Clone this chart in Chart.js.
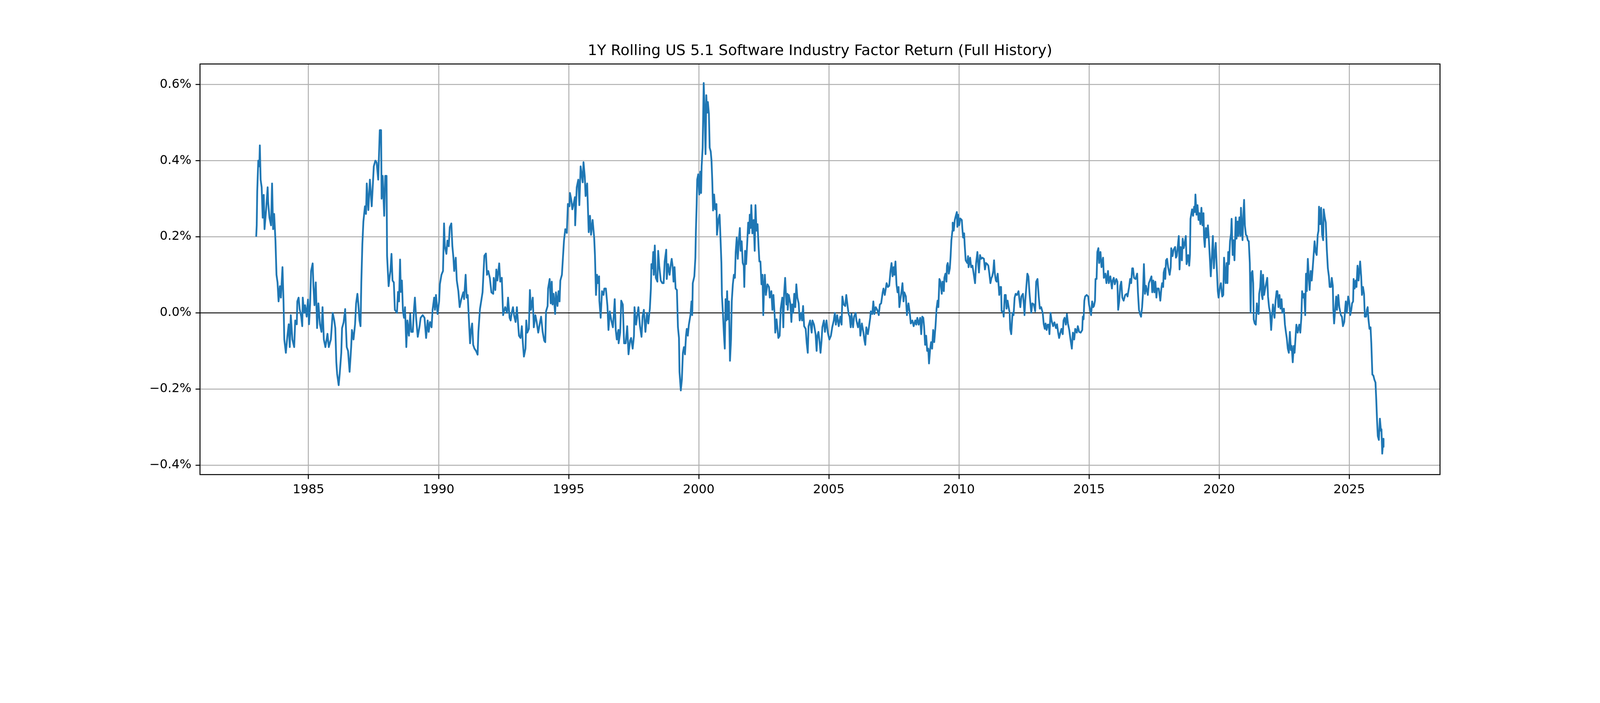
<!DOCTYPE html>
<html>
<head>
<meta charset="utf-8">
<title>1Y Rolling US 5.1 Software Industry Factor Return (Full History)</title>
<script src="https://cdn.jsdelivr.net/npm/chart.js@4.4.1/dist/chart.umd.min.js"></script>
<style>
  html, body { margin: 0; padding: 0; background: #fff; overflow: hidden; }
  canvas { display: block; }
</style>
</head>
<body>
<canvas id="chart"></canvas>
<script>
//-----------------------------------------------------------------------------
// Data (returns in %)
const xTicks = [1985, 1990, 1995, 2000, 2005, 2010, 2015, 2020, 2025];
const yTicks = [-0.4, -0.2, 0.0, 0.2, 0.4, 0.6];

const dates = [
  1982.99, 1983.01, 1983.03, 1983.07, 1983.11, 1983.13, 1983.16, 1983.20, 1983.24, 1983.28, 1983.31, 1983.37, 1983.43, 1983.45, 1983.50, 1983.56, 1983.60, 1983.64, 1983.68, 1983.73, 1983.77, 1983.81, 1983.85, 1983.90, 1983.94,
  1984.00, 1984.04, 1984.07, 1984.13, 1984.19, 1984.24, 1984.28, 1984.32, 1984.38, 1984.45, 1984.49, 1984.55, 1984.57, 1984.62, 1984.66, 1984.72, 1984.76, 1984.78, 1984.83, 1984.87, 1984.93, 1984.98,
  1985.02, 1985.06, 1985.10, 1985.16, 1985.19, 1985.23, 1985.28, 1985.33, 1985.38, 1985.44, 1985.50, 1985.54, 1985.59, 1985.65, 1985.73, 1985.78, 1985.86, 1985.93, 1985.99,
  1986.03, 1986.07, 1986.10, 1986.16, 1986.20, 1986.26, 1986.29, 1986.35, 1986.41, 1986.47, 1986.52, 1986.58, 1986.64, 1986.67, 1986.73, 1986.79, 1986.83, 1986.88, 1986.92, 1986.96,
  1987.00, 1987.03, 1987.07, 1987.11, 1987.17, 1987.21, 1987.24, 1987.30, 1987.36, 1987.43, 1987.51, 1987.57, 1987.62, 1987.68, 1987.74, 1987.79, 1987.81, 1987.85, 1987.91, 1987.95,
  1988.00, 1988.02, 1988.08, 1988.12, 1988.15, 1988.19, 1988.23, 1988.28, 1988.32, 1988.40, 1988.44, 1988.48, 1988.52, 1988.55, 1988.59, 1988.63, 1988.67, 1988.71, 1988.76, 1988.80, 1988.86, 1988.91, 1988.95,
  1989.01, 1989.05, 1989.09, 1989.14, 1989.20, 1989.27, 1989.31, 1989.39, 1989.46, 1989.52, 1989.58, 1989.62, 1989.67, 1989.73, 1989.77, 1989.83, 1989.86, 1989.90, 1989.96,
  1990.02, 1990.05, 1990.11, 1990.17, 1990.21, 1990.24, 1990.30, 1990.34, 1990.39, 1990.43, 1990.49, 1990.53, 1990.57, 1990.60, 1990.66, 1990.70, 1990.76, 1990.81, 1990.87, 1990.95, 1990.98,
  1991.04, 1991.08, 1991.12, 1991.15, 1991.21, 1991.25, 1991.29, 1991.33, 1991.38, 1991.44, 1991.50, 1991.53, 1991.59, 1991.65, 1991.69, 1991.72, 1991.76, 1991.82, 1991.86, 1991.91, 1991.97,
  1992.03, 1992.10, 1992.12, 1992.18, 1992.22, 1992.26, 1992.33, 1992.37, 1992.43, 1992.48, 1992.56, 1992.63, 1992.67, 1992.73, 1992.77, 1992.81, 1992.86, 1992.90, 1992.96,
  1993.01, 1993.09, 1993.15, 1993.20, 1993.24, 1993.28, 1993.34, 1993.37, 1993.41, 1993.47, 1993.51, 1993.55, 1993.62, 1993.66, 1993.72, 1993.77, 1993.83, 1993.89, 1993.94,
  1994.00, 1994.06, 1994.10, 1994.13, 1994.19, 1994.21, 1994.27, 1994.31, 1994.35, 1994.38, 1994.42, 1994.48, 1994.51, 1994.57, 1994.61, 1994.65, 1994.68, 1994.74, 1994.78, 1994.82, 1994.87, 1994.93, 1994.97,
  1995.03, 1995.05, 1995.10, 1995.14, 1995.20, 1995.24, 1995.25, 1995.31, 1995.37, 1995.41, 1995.46, 1995.50, 1995.54, 1995.57, 1995.62, 1995.65, 1995.71, 1995.77, 1995.82, 1995.86, 1995.92, 1995.98,
  1996.01, 1996.05, 1996.09, 1996.13, 1996.17, 1996.18, 1996.23, 1996.28, 1996.34, 1996.37, 1996.43, 1996.49, 1996.53, 1996.58, 1996.64, 1996.70, 1996.74, 1996.77, 1996.81, 1996.85, 1996.91, 1996.92, 1996.98,
  1997.02, 1997.08, 1997.13, 1997.19, 1997.25, 1997.30, 1997.36, 1997.40, 1997.46, 1997.51, 1997.53, 1997.59, 1997.63, 1997.68, 1997.74, 1997.80, 1997.84, 1997.89, 1997.95,
  1998.01, 1998.06, 1998.12, 1998.16, 1998.18, 1998.22, 1998.25, 1998.27, 1998.31, 1998.35, 1998.41, 1998.44, 1998.48, 1998.54, 1998.60, 1998.65, 1998.69, 1998.75, 1998.77, 1998.82, 1998.88, 1998.92, 1998.96,
  1999.00, 1999.03, 1999.07, 1999.11, 1999.16, 1999.20, 1999.24, 1999.26, 1999.31, 1999.35, 1999.39, 1999.43, 1999.47, 1999.51, 1999.54, 1999.58, 1999.62, 1999.68, 1999.72, 1999.75, 1999.77, 1999.83, 1999.87, 1999.89, 1999.92, 1999.94, 1999.98,
  2000.02, 2000.06, 2000.09, 2000.11, 2000.15, 2000.19, 2000.23, 2000.26, 2000.29, 2000.32, 2000.35, 2000.39, 2000.42, 2000.46, 2000.49, 2000.52, 2000.55, 2000.59, 2000.63, 2000.68, 2000.70, 2000.76, 2000.80, 2000.84, 2000.87, 2000.89, 2000.93, 2000.97,
  2001.00, 2001.03, 2001.06, 2001.09, 2001.12, 2001.16, 2001.20, 2001.24, 2001.27, 2001.31, 2001.35, 2001.39, 2001.42, 2001.46, 2001.50, 2001.54, 2001.58, 2001.61, 2001.65, 2001.69, 2001.73, 2001.75, 2001.78, 2001.82, 2001.86, 2001.90, 2001.94, 2001.96, 2001.99,
  2002.02, 2002.06, 2002.11, 2002.15, 2002.18, 2002.22, 2002.26, 2002.30, 2002.33, 2002.37, 2002.41, 2002.45, 2002.48, 2002.51, 2002.54, 2002.58, 2002.64, 2002.70, 2002.73, 2002.79, 2002.83, 2002.87, 2002.92, 2002.94, 2002.99,
  2003.06, 2003.11, 2003.15, 2003.21, 2003.25, 2003.28, 2003.32, 2003.37, 2003.41, 2003.42, 2003.46, 2003.52, 2003.56, 2003.59, 2003.63, 2003.67, 2003.71, 2003.75, 2003.79, 2003.84, 2003.88, 2003.94, 2003.97,
  2004.01, 2004.05, 2004.11, 2004.15, 2004.19, 2004.22, 2004.28, 2004.34, 2004.37, 2004.43, 2004.49, 2004.53, 2004.56, 2004.60, 2004.64, 2004.68, 2004.72, 2004.75, 2004.81, 2004.85, 2004.91, 2004.96,
  2005.02, 2005.08, 2005.13, 2005.19, 2005.23, 2005.27, 2005.32, 2005.38, 2005.44, 2005.49, 2005.52, 2005.57, 2005.63, 2005.67, 2005.72, 2005.76, 2005.80, 2005.84, 2005.87, 2005.93, 2005.97,
  2006.03, 2006.06, 2006.12, 2006.18, 2006.21, 2006.27, 2006.33, 2006.37, 2006.40, 2006.44, 2006.50, 2006.54, 2006.59, 2006.61, 2006.67, 2006.71, 2006.75, 2006.80, 2006.86, 2006.92, 2006.96,
  2007.01, 2007.07, 2007.10, 2007.15, 2007.18, 2007.22, 2007.27, 2007.32, 2007.37, 2007.41, 2007.45, 2007.49, 2007.52, 2007.56, 2007.60, 2007.64, 2007.68, 2007.71, 2007.75, 2007.79, 2007.83, 2007.87, 2007.90, 2007.96,
  2008.00, 2008.06, 2008.11, 2008.15, 2008.21, 2008.26, 2008.32, 2008.36, 2008.40, 2008.45, 2008.51, 2008.55, 2008.59, 2008.63, 2008.66, 2008.70, 2008.74, 2008.78, 2008.82, 2008.85, 2008.89, 2008.93, 2008.97,
  2009.01, 2009.05, 2009.10, 2009.14, 2009.18, 2009.21, 2009.25, 2009.29, 2009.34, 2009.37, 2009.42, 2009.44, 2009.48, 2009.52, 2009.54, 2009.57, 2009.61, 2009.65, 2009.68, 2009.71, 2009.75, 2009.76, 2009.80, 2009.84, 2009.88, 2009.92, 2009.94, 2009.97,
  2010.01, 2010.05, 2010.11, 2010.13, 2010.16, 2010.20, 2010.22, 2010.26, 2010.32, 2010.35, 2010.37, 2010.43, 2010.47, 2010.52, 2010.56, 2010.62, 2010.66, 2010.71, 2010.73, 2010.77, 2010.81, 2010.85, 2010.90, 2010.96,
  2011.00, 2011.04, 2011.09, 2011.13, 2011.17, 2011.21, 2011.25, 2011.28, 2011.32, 2011.35, 2011.38, 2011.42, 2011.45, 2011.49, 2011.53, 2011.55, 2011.59, 2011.62, 2011.64, 2011.70, 2011.72, 2011.76, 2011.80, 2011.83, 2011.87, 2011.91, 2011.95, 2011.97,
  2012.01, 2012.06, 2012.10, 2012.14, 2012.18, 2012.23, 2012.29, 2012.33, 2012.36, 2012.40, 2012.46, 2012.50, 2012.52, 2012.55, 2012.59, 2012.63, 2012.67, 2012.71, 2012.74, 2012.78, 2012.82, 2012.88, 2012.93, 2012.97,
  2013.02, 2013.07, 2013.11, 2013.16, 2013.22, 2013.26, 2013.30, 2013.33, 2013.37, 2013.41, 2013.45, 2013.48, 2013.52, 2013.56, 2013.62, 2013.67, 2013.73, 2013.77, 2013.81, 2013.85, 2013.90, 2013.94, 2013.99,
  2014.02, 2014.06, 2014.11, 2014.15, 2014.19, 2014.24, 2014.28, 2014.34, 2014.38, 2014.43, 2014.47, 2014.53, 2014.57, 2014.62, 2014.68, 2014.74, 2014.76, 2014.79, 2014.82, 2014.85, 2014.91, 2014.97,
  2015.00, 2015.04, 2015.08, 2015.12, 2015.16, 2015.19, 2015.23, 2015.25, 2015.29, 2015.32, 2015.36, 2015.39, 2015.44, 2015.48, 2015.54, 2015.57, 2015.63, 2015.67, 2015.73, 2015.76, 2015.82, 2015.88, 2015.91, 2015.95, 2015.99,
  2016.05, 2016.09, 2016.12, 2016.16, 2016.20, 2016.24, 2016.28, 2016.33, 2016.39, 2016.45, 2016.48, 2016.54, 2016.58, 2016.62, 2016.66, 2016.69, 2016.73, 2016.79, 2016.85, 2016.88, 2016.92, 2016.96,
  2017.00, 2017.04, 2017.07, 2017.11, 2017.15, 2017.19, 2017.23, 2017.26, 2017.30, 2017.34, 2017.40, 2017.43, 2017.47, 2017.51, 2017.55, 2017.59, 2017.62, 2017.68, 2017.74, 2017.78, 2017.81, 2017.85, 2017.87, 2017.91, 2017.93, 2017.96,
  2018.00, 2018.04, 2018.10, 2018.14, 2018.16, 2018.21, 2018.25, 2018.31, 2018.34, 2018.37, 2018.41, 2018.45, 2018.48, 2018.52, 2018.57, 2018.60, 2018.64, 2018.68, 2018.72, 2018.75, 2018.81, 2018.85, 2018.88, 2018.90, 2018.96,
  2019.00, 2019.04, 2019.07, 2019.09, 2019.13, 2019.17, 2019.21, 2019.24, 2019.28, 2019.32, 2019.36, 2019.40, 2019.42, 2019.45, 2019.49, 2019.53, 2019.57, 2019.61, 2019.64, 2019.68, 2019.72, 2019.76, 2019.80, 2019.83, 2019.87, 2019.91, 2019.95, 2019.98,
  2020.02, 2020.07, 2020.12, 2020.16, 2020.19, 2020.25, 2020.29, 2020.32, 2020.35, 2020.38, 2020.42, 2020.46, 2020.48, 2020.52, 2020.55, 2020.59, 2020.64, 2020.67, 2020.71, 2020.74, 2020.78, 2020.82, 2020.84, 2020.86, 2020.90, 2020.93, 2020.96, 2020.99,
  2021.03, 2021.07, 2021.10, 2021.14, 2021.18, 2021.21, 2021.24, 2021.28, 2021.31, 2021.33, 2021.37, 2021.41, 2021.45, 2021.48, 2021.52, 2021.54, 2021.58, 2021.61, 2021.64, 2021.67, 2021.69, 2021.73, 2021.77, 2021.81, 2021.85, 2021.88, 2021.92, 2021.96,
  2022.00, 2022.03, 2022.07, 2022.13, 2022.17, 2022.21, 2022.24, 2022.28, 2022.32, 2022.36, 2022.40, 2022.43, 2022.49, 2022.53, 2022.57, 2022.60, 2022.64, 2022.68, 2022.72, 2022.76, 2022.79, 2022.83, 2022.87, 2022.90, 2022.93, 2022.97,
  2023.02, 2023.08, 2023.12, 2023.16, 2023.19, 2023.23, 2023.27, 2023.31, 2023.34, 2023.37, 2023.41, 2023.44, 2023.48, 2023.52, 2023.56, 2023.60, 2023.63, 2023.67, 2023.71, 2023.75, 2023.79, 2023.82, 2023.84, 2023.88, 2023.92, 2023.96,
  2024.00, 2024.02, 2024.06, 2024.10, 2024.14, 2024.18, 2024.22, 2024.25, 2024.30, 2024.33, 2024.37, 2024.39, 2024.42, 2024.45, 2024.50, 2024.53, 2024.58, 2024.62, 2024.68, 2024.72, 2024.76, 2024.81, 2024.85, 2024.87, 2024.91, 2024.96,
  2025.00, 2025.04, 2025.08, 2025.11, 2025.15, 2025.17, 2025.21, 2025.25, 2025.28, 2025.32, 2025.36, 2025.39, 2025.42, 2025.46, 2025.49, 2025.53, 2025.57, 2025.60, 2025.65, 2025.68, 2025.71, 2025.74, 2025.78, 2025.82, 2025.85, 2025.89, 2025.93, 2025.97,
  2026.01, 2026.04, 2026.07, 2026.10, 2026.14, 2026.18, 2026.22, 2026.24, 2026.27, 2026.31, 2026.32
];

const returns = [
  0.20, 0.23, 0.32, 0.40, 0.385, 0.44, 0.35, 0.33, 0.25, 0.31, 0.22, 0.27, 0.33, 0.29, 0.25, 0.23, 0.34, 0.22, 0.26, 0.19, 0.10, 0.08, 0.03, 0.07, 0.04,
  0.12, 0.03, -0.07, -0.105, -0.06, -0.03, -0.09, -0.006, -0.07, -0.09, -0.02, -0.03, 0.03, 0.04, 0.01, -0.01, -0.035, 0.04, 0.0, 0.02, -0.01, 0.035,
  -0.03, 0.02, 0.11, 0.13, 0.07, 0.02, 0.08, -0.04, 0.025, -0.03, -0.05, 0.015, -0.07, -0.09, -0.055, -0.09, -0.07, 0.0, -0.02,
  -0.04, -0.13, -0.16, -0.19, -0.16, -0.105, -0.04, -0.025, 0.01, -0.09, -0.10, -0.155, -0.09, -0.045, -0.07, -0.03, 0.025, 0.05, 0.02, -0.02,
  -0.035, 0.08, 0.18, 0.24, 0.28, 0.26, 0.34, 0.27, 0.35, 0.28, 0.385, 0.40, 0.395, 0.35, 0.48, 0.48, 0.30, 0.36, 0.255, 0.36,
  0.36, 0.15, 0.07, 0.095, 0.11, 0.155, 0.085, 0.08, 0.008, 0.0, 0.055, 0.03, 0.14, 0.055, 0.085, 0.005, -0.013, 0.015, -0.09, -0.02, -0.06, -0.003, -0.05,
  -0.05, 0.005, 0.04, -0.017, -0.063, -0.035, -0.013, -0.006, -0.013, -0.066, -0.02, -0.05, -0.024, -0.038, 0.008, 0.04, 0.008, 0.047, -0.003,
  0.03, 0.075, 0.10, 0.11, 0.235, 0.175, 0.155, 0.19, 0.175, 0.225, 0.235, 0.175, 0.145, 0.11, 0.145, 0.085, 0.057, 0.015, 0.035, 0.054, 0.036,
  0.10, 0.04, 0.047, 0.004, -0.08, -0.045, -0.028, -0.084, -0.094, -0.10, -0.11, -0.05, 0.01, 0.036, 0.054, 0.096, 0.15, 0.156, 0.10, 0.11, 0.092,
  0.054, 0.05, 0.092, 0.06, 0.114, 0.085, 0.13, 0.082, 0.092, -0.006, 0.015, 0.0, 0.04, -0.013, -0.02, 0.0, 0.015, -0.006, -0.024,
  0.015, -0.06, -0.066, -0.035, -0.08, -0.115, -0.094, -0.02, -0.052, -0.042, 0.06, 0.008, 0.04, -0.038, -0.006, -0.024, -0.052, -0.028, -0.01,
  -0.05, -0.073, -0.077, 0.004, 0.018, 0.064, 0.089, 0.025, 0.082, 0.022, 0.05, -0.003, 0.054, 0.018, 0.057, 0.03, 0.085, 0.10, 0.145, 0.19, 0.22, 0.21, 0.286,
  0.28, 0.315, 0.297, 0.272, 0.29, 0.304, 0.23, 0.33, 0.35, 0.283, 0.385, 0.364, 0.343, 0.396, 0.357, 0.307, 0.34, 0.212, 0.255, 0.205, 0.244, 0.198,
  0.152, 0.047, 0.10, 0.078, 0.096, 0.032, -0.013, 0.057, 0.047, 0.064, 0.064, 0.018, -0.045, 0.004, -0.02, -0.038, 0.0, 0.036, -0.045, -0.07, -0.045, -0.08, -0.052,
  0.032, 0.022, -0.08, -0.08, -0.035, -0.109, -0.073, -0.066, -0.094, -0.06, 0.015, -0.031, -0.01, 0.015, -0.035, -0.063, -0.01, 0.008, -0.05,
  0.0, -0.028, 0.011, 0.064, 0.128, 0.117, 0.16, 0.10, 0.177, 0.092, 0.082, 0.163, 0.124, 0.085, 0.078, 0.078, 0.135, 0.166, 0.089, 0.128, 0.10, 0.124, 0.142,
  0.12, 0.082, 0.12, 0.064, 0.06, -0.038, -0.066, -0.155, -0.204, -0.176, -0.105, -0.09, -0.109, -0.06, -0.042, -0.06, -0.031, -0.006, 0.03, -0.006, 0.078, 0.096, 0.145, 0.216, 0.286, 0.35, 0.364,
  0.311, 0.371, 0.315, 0.385, 0.434, 0.604, 0.52, 0.417, 0.572, 0.526, 0.554, 0.523, 0.434, 0.424, 0.40, 0.346, 0.269, 0.311, 0.272, 0.286, 0.205, 0.247, 0.258, 0.188, 0.131, 0.047, -0.003, -0.06,
  -0.094, 0.036, -0.02, 0.057, -0.017, 0.03, -0.126, -0.07, 0.032, 0.075, 0.10, 0.092, 0.16, 0.198, 0.142, 0.19, 0.223, 0.163, 0.188, 0.131, 0.124, 0.068, 0.163, 0.128, 0.18, 0.237, 0.209, 0.258, 0.223,
  0.283, 0.209, 0.244, 0.163, 0.283, 0.216, 0.233, 0.173, 0.135, 0.135, 0.075, 0.10, -0.006, 0.068, 0.10, 0.047, 0.075, 0.068, 0.04, 0.057, 0.008, 0.047, -0.01, -0.052, -0.017,
  -0.066, -0.06, 0.011, 0.04, -0.038, 0.05, 0.092, 0.022, 0.05, 0.008, 0.047, 0.025, -0.024, 0.022, 0.0, 0.05, 0.015, 0.075, 0.04, 0.025, -0.02, 0.0, -0.02,
  0.018, -0.035, -0.042, -0.08, -0.105, -0.035, -0.02, -0.052, -0.02, -0.031, -0.056, -0.10, -0.06, -0.05, -0.073, -0.105, -0.073, -0.038, -0.02, -0.05, -0.02, -0.052,
  -0.07, -0.06, -0.038, -0.02, 0.0, -0.031, -0.006, -0.035, -0.01, -0.031, 0.043, 0.022, 0.018, 0.047, 0.018, -0.003, -0.01, -0.038, -0.003, -0.038, -0.01,
  0.0, -0.02, -0.038, -0.017, -0.06, -0.028, -0.052, -0.073, -0.084, -0.038, -0.056, -0.038, -0.013, 0.004, -0.003, 0.03, -0.003, 0.015, 0.008, -0.006, 0.022,
  0.025, 0.054, 0.064, 0.047, 0.06, 0.078, 0.068, 0.071, 0.11, 0.131, 0.096, 0.12, 0.10, 0.135, 0.075, 0.054, 0.068, 0.015, 0.036, 0.054, 0.078, 0.03, 0.054, 0.043,
  -0.006, 0.025, 0.0, -0.028, -0.02, -0.035, -0.02, -0.031, -0.013, -0.031, -0.013, -0.056, -0.01, -0.013, -0.035, -0.084, -0.06, -0.10, -0.094, -0.133, -0.098, -0.077, -0.094,
  -0.045, -0.077, -0.035, 0.011, 0.032, 0.015, 0.089, 0.082, 0.05, 0.082, 0.057, 0.092, 0.103, 0.082, 0.124, 0.131, 0.103, 0.117, 0.149, 0.191, 0.216, 0.237, 0.216, 0.244, 0.255, 0.265, 0.226, 0.258,
  0.23, 0.248, 0.244, 0.223, 0.198, 0.209, 0.18, 0.138, 0.131, 0.149, 0.12, 0.145, 0.12, 0.124, 0.106, 0.078, 0.131, 0.16, 0.138, 0.106, 0.152, 0.142, 0.145, 0.142,
  0.114, 0.131, 0.128, 0.124, 0.103, 0.078, 0.092, 0.096, 0.11, 0.138, 0.103, 0.085, 0.082, 0.103, 0.068, 0.047, 0.068, 0.068, 0.004, 0.004, -0.01, 0.047, 0.047, 0.011, 0.032, 0.015, 0.0, -0.042,
  -0.056, 0.0, -0.006, 0.04, 0.05, 0.047, 0.057, 0.032, 0.015, 0.043, 0.05, 0.018, -0.006, 0.032, 0.068, 0.103, 0.096, 0.054, 0.03, 0.0, 0.025, 0.022, 0.004, 0.082,
  0.089, 0.04, 0.011, 0.015, 0.0, -0.03, -0.042, -0.028, -0.045, -0.031, -0.031, -0.056, 0.0, -0.02, -0.035, -0.025, -0.04, -0.03, -0.05, -0.066, -0.052, -0.042, -0.056,
  -0.02, -0.013, -0.031, -0.003, -0.028, -0.045, -0.066, -0.094, -0.052, -0.07, -0.042, -0.052, -0.035, -0.05, -0.052, -0.045, -0.01, -0.017, 0.032, 0.043, 0.047, 0.043,
  0.022, 0.008, -0.006, 0.03, 0.015, 0.018, 0.032, 0.089, 0.089, 0.16, 0.17, 0.131, 0.16, 0.12, 0.145, 0.092, 0.103, 0.078, 0.11, 0.078, 0.096, 0.064, 0.085, 0.092, 0.075,
  0.089, 0.082, 0.008, 0.03, 0.071, 0.082, 0.04, 0.032, 0.047, 0.05, 0.043, 0.068, 0.089, 0.078, 0.117, 0.117, 0.092, 0.089, 0.103, 0.054, 0.008, -0.003,
  -0.01, 0.015, 0.047, 0.128, 0.05, 0.071, 0.057, 0.047, 0.078, 0.085, 0.096, 0.054, 0.085, 0.054, 0.082, 0.04, 0.064, 0.064, 0.032, 0.064, 0.078, 0.068, 0.106, 0.117, 0.089, 0.138,
  0.142, 0.12, 0.10, 0.12, 0.17, 0.149, 0.166, 0.173, 0.145, 0.149, 0.173, 0.202, 0.114, 0.173, 0.138, 0.195, 0.17, 0.184, 0.202, 0.128, 0.152, 0.124, 0.152, 0.247, 0.272,
  0.255, 0.279, 0.265, 0.311, 0.258, 0.283, 0.244, 0.262, 0.233, 0.276, 0.23, 0.262, 0.198, 0.173, 0.223, 0.198, 0.23, 0.188, 0.149, 0.096, 0.145, 0.202, 0.117, 0.152, 0.184, 0.12, 0.057, 0.04,
  0.064, 0.078, 0.043, 0.047, 0.145, 0.078, 0.131, 0.078, 0.16, 0.128, 0.188, 0.209, 0.247, 0.152, 0.191, 0.138, 0.251, 0.195, 0.24, 0.202, 0.251, 0.202, 0.276, 0.244, 0.191, 0.255, 0.297, 0.23,
  0.205, 0.202, 0.191, 0.188, 0.131, 0.0, 0.103, 0.11, 0.078, -0.017, -0.028, -0.031, 0.025, 0.0, -0.003, 0.05, 0.068, 0.11, 0.047, 0.036, 0.10, 0.047, 0.064, 0.078, 0.092, 0.043, 0.015, 0.0,
  -0.045, -0.013, 0.022, -0.013, 0.032, 0.057, 0.057, 0.015, 0.047, 0.011, 0.036, 0.0, 0.011, -0.031, -0.052, -0.066, -0.094, -0.105, -0.05, -0.098, -0.087, -0.13, -0.087, -0.105, -0.073, -0.031,
  -0.052, -0.031, -0.052, -0.013, 0.057, 0.04, 0.05, -0.006, 0.103, 0.057, 0.142, 0.103, 0.06, 0.11, 0.085, 0.12, 0.149, 0.188, 0.16, 0.152, 0.205, 0.216, 0.279, 0.233, 0.276, 0.205,
  0.191, 0.272, 0.251, 0.237, 0.166, 0.117, 0.096, 0.068, 0.068, 0.092, 0.071, 0.008, -0.028, 0.0, 0.043, 0.008, 0.047, 0.015, -0.006, -0.01, -0.035, -0.024, 0.015, 0.03, 0.0, 0.043,
  0.03, -0.006, 0.008, 0.025, 0.03, 0.089, 0.064, 0.085, 0.068, 0.124, 0.085, 0.11, 0.135, 0.096, 0.047, 0.068, 0.05, -0.01, -0.01, 0.008, 0.015, -0.017, -0.042, -0.038, -0.08, -0.162, -0.165, -0.176,
  -0.183, -0.228, -0.282, -0.324, -0.334, -0.278, -0.31, -0.306, -0.37, -0.331, -0.352
];

//-----------------------------------------------------------------------------
// Sizing: the reference is 5400x1800, everything below is given in those
// pixels and scaled to whatever the window really is in CSS pixels
const W = window.innerWidth || 5400;
const H = window.innerHeight || 1800;
const k = Math.min(W / 5400, H / 1800);
const px = v => v * k;

const FONT = "'DejaVu Sans', 'Liberation Sans', sans-serif";

function pctLabel(v) {
  const s = Math.abs(v).toFixed(1) + '%';
  return v < -1e-9 ? '\u2212' + s : s;
}

function isZero(c) {
  return c.tick && Math.abs(c.tick.value) < 1e-9;
}

// full black box round the plot area, like matplotlib spines
const frame = {
  id: 'frame',
  afterDraw(chart) {
    const {ctx, chartArea: a} = chart;
    ctx.save();
    ctx.strokeStyle = '#000';
    ctx.lineWidth = px(3.3);
    ctx.strokeRect(a.left, a.top, a.right - a.left, a.bottom - a.top);
    ctx.restore();
  }
};

//-----------------------------------------------------------------------------
// Chart
const canvas = document.getElementById('chart');
canvas.width = W;
canvas.height = H;
canvas.style.width = W + 'px';
canvas.style.height = H + 'px';

const points = [];
for (let i = 0; i < Math.min(dates.length, returns.length); i++) {
  points.push({ x: dates[i], y: returns[i] });
}

Chart.defaults.font.family = FONT;

new Chart(canvas, {
  type: 'line',
  data: {
    datasets: [{
      data: points,
      borderColor: '#1f77b4',
      borderWidth: px(6),
      pointRadius: 0,
      fill: false,
      tension: 0,
      borderJoinStyle: 'round',
      borderCapStyle: 'butt'
    }]
  },
  options: {
    responsive: false,
    animation: false,
    layout: { padding: { left: 0, right: W - px(4860), top: 0, bottom: 0 } },
    plugins: {
      legend: { display: false },
      tooltip: { enabled: false },
      title: {
        display: true,
        fullSize: false,
        text: '1Y Rolling US 5.1 Software Industry Factor Return (Full History)',
        color: '#000',
        font: { family: FONT, size: px(50), weight: 'normal', lineHeight: 1.2 },
        padding: { top: px(143), bottom: px(13) }
      }
    },
    scales: {
      x: {
        type: 'linear',
        min: 1980.83,
        max: 2028.49,
        afterBuildTicks: s => { s.ticks = xTicks.map(v => ({ value: v })); },
        afterFit: s => { s.height = H - px(1602); },
        border: { display: false },
        grid: { color: '#b0b0b0', lineWidth: px(3.3), tickColor: '#000', tickLength: px(15), tickWidth: px(3.3) },
        ticks: {
          color: '#000',
          font: { family: FONT, size: px(42) },
          padding: px(12),
          maxRotation: 0,
          autoSkip: false,
          callback: v => String(v)
        }
      },
      y: {
        type: 'linear',
        min: -0.425,
        max: 0.654,
        afterBuildTicks: s => { s.ticks = yTicks.map(v => ({ value: v })); },
        afterFit: s => { s.width = px(675); },
        border: { display: false },
        grid: {
          color: c => isZero(c) ? '#000' : '#b0b0b0',
          lineWidth: c => isZero(c) ? px(3) : px(3.3),
          tickColor: '#000',
          tickLength: px(15),
          tickWidth: px(3.3)
        },
        ticks: {
          color: '#000',
          font: { family: FONT, size: px(42) },
          padding: px(14),
          callback: v => pctLabel(v)
        }
      }
    }
  },
  plugins: [frame]
});
</script>
</body>
</html>
